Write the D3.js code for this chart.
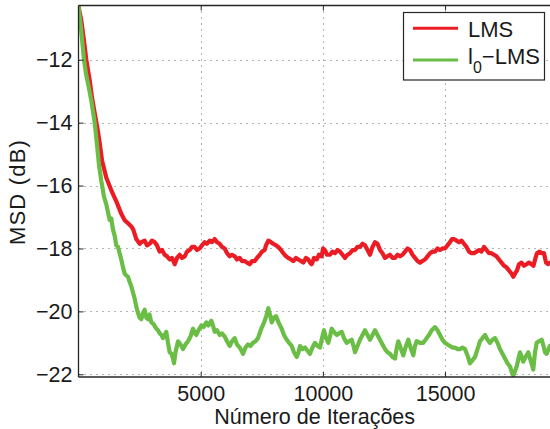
<!DOCTYPE html>
<html><head><meta charset="utf-8">
<script src="https://cdn.jsdelivr.net/npm/d3@7"></script>
<style>
body{margin:0;background:#fff}
svg{display:block}
text{font-family:"Liberation Sans",Arial,Helvetica,sans-serif;fill:#1a1a1a}
</style>
</head><body>
<svg id="c" width="550" height="429"></svg>
<script>
// ---------- data ----------
const xTicks = [5000, 10000, 15000];
const xTickLabels = ["5000", "10000", "15000"];
const yTicks = [-22, -20, -18, -16, -14, -12];
const yTickLabels = ["−22", "−20", "−18", "−16", "−14", "−12"];
const xDomain = [0, 19294];
const yDomain = [-22.086, -10.276];
const xTitle = "Número de Iterações";
const yTitle = "MSD (dB)";
const seriesNames = ["LMS", "l0−LMS"];
const seriesColors = ["#ec1c24", "#6abd45"];

const lmsIter = [0,115,225,320,458,552,663,769,868,962,1138,1342,1547,1751,1890,2026,2161,2242,2365,2504,2570,2709,2803,2914,3008,3118,3212,3323,3417,3527,3622,3732,3826,3937,4031,4141,4235,4346,4440,4550,4644,4755,4849,4960,5054,5164,5258,5369,5463,5573,5667,5778,5872,5983,6077,6187,6281,6392,6486,6596,6690,6801,6895,7006,7100,7210,7304,7415,7509,7619,7672,7767,7877,7971,8081,8176,8286,8380,8491,8585,8696,8790,8900,8994,9105,9199,9310,9404,9473,9543,9637,9747,9841,9952,10005,10087,10169,10292,10394,10496,10598,10701,10803,10905,11007,11110,11212,11314,11417,11519,11621,11723,11826,11928,12030,12133,12235,12337,12440,12542,12644,12746,12849,12951,13053,13156,13258,13360,13462,13565,13667,13769,13872,13974,14076,14179,14281,14383,14485,14588,14690,14792,14895,14997,15099,15202,15284,15366,15468,15570,15673,15775,15877,15980,16082,16184,16287,16389,16491,16593,16696,16798,16900,17002,17105,17207,17309,17412,17514,17616,17719,17792,17862,17944,18026,18128,18230,18333,18435,18537,18619,18701,18762,18864,18967,19049,19131,19213,19294];
const lmsMSD = [-10.3,-10.75,-11.4,-12.0,-12.65,-13.2,-13.7,-14.15,-14.65,-15.2,-15.75,-16.15,-16.5,-16.9,-17.1,-17.2,-17.3,-17.4,-17.7,-17.85,-17.8,-17.75,-17.9,-17.85,-17.75,-17.8,-17.9,-18.1,-18.05,-18.2,-18.25,-18.35,-18.3,-18.5,-18.3,-18.2,-18.3,-18.25,-18.1,-18.05,-17.95,-17.95,-18.05,-18.0,-17.9,-17.8,-17.85,-17.75,-17.8,-17.7,-17.8,-17.85,-17.95,-18.0,-18.15,-18.25,-18.2,-18.25,-18.35,-18.3,-18.4,-18.4,-18.45,-18.5,-18.4,-18.4,-18.3,-18.2,-18.1,-18.05,-17.9,-17.75,-17.8,-17.85,-17.9,-17.95,-18.05,-18.15,-18.25,-18.3,-18.35,-18.4,-18.3,-18.35,-18.4,-18.45,-18.3,-18.35,-18.45,-18.5,-18.3,-18.35,-18.2,-18.25,-18.0,-18.05,-18.2,-18.2,-18.1,-18.15,-18.05,-18.1,-18.2,-18.3,-18.2,-18.15,-18.05,-18.05,-17.95,-17.95,-17.85,-17.9,-18.05,-18.2,-17.95,-17.8,-17.85,-18.05,-18.15,-18.3,-18.25,-18.2,-18.3,-18.3,-18.2,-18.25,-18.2,-18.1,-18.0,-18.05,-18.2,-18.3,-18.4,-18.45,-18.4,-18.35,-18.25,-18.15,-18.1,-18.1,-18.0,-18.05,-18.0,-18.0,-17.9,-17.8,-17.7,-17.7,-17.75,-17.8,-17.75,-17.85,-17.95,-18.1,-18.15,-18.15,-18.1,-18.05,-18.1,-17.95,-18.05,-18.15,-18.15,-18.2,-18.25,-18.35,-18.45,-18.55,-18.6,-18.7,-18.8,-18.9,-18.8,-18.7,-18.5,-18.45,-18.55,-18.5,-18.45,-18.5,-18.55,-18.3,-18.15,-18.1,-18.15,-18.15,-18.45,-18.5,-18.45];

const l0Iter = [0,115,225,307,389,524,663,757,839,933,1043,1138,1207,1277,1342,1412,1481,1547,1616,1698,1751,1821,1890,1944,2026,2087,2161,2230,2300,2365,2435,2496,2570,2639,2709,2774,2844,2905,2979,3069,3184,3253,3323,3396,3458,3527,3593,3662,3732,3806,3867,3908,3969,4072,4174,4276,4378,4481,4583,4685,4767,4820,4910,5025,5115,5230,5320,5434,5504,5573,5667,5778,5872,5983,6077,6187,6281,6392,6486,6596,6670,6731,6834,6936,7038,7141,7243,7345,7480,7570,7685,7767,7836,7906,8000,8081,8184,8315,8409,8520,8614,8724,8818,8929,9002,9064,9166,9268,9371,9473,9575,9678,9780,9882,9964,10046,10128,10222,10292,10361,10455,10566,10660,10770,10865,10975,11069,11179,11253,11315,11417,11519,11621,11723,11826,11928,12030,12133,12235,12337,12440,12542,12644,12746,12849,12951,13013,13086,13176,13291,13381,13496,13586,13700,13769,13839,13974,14109,14248,14342,14453,14588,14690,14792,14895,14997,15099,15202,15304,15406,15509,15611,15713,15815,15918,16020,16122,16225,16327,16429,16532,16634,16736,16838,16941,17043,17145,17248,17350,17452,17555,17657,17718,17792,17862,17931,18005,18066,18136,18201,18291,18406,18496,18557,18610,18680,18750,18844,18954,19028,19089,19159,19232,19294];
const l0MSD = [-10.3,-11.1,-12.0,-12.45,-12.75,-13.3,-14.0,-14.7,-15.35,-15.85,-16.35,-16.6,-16.85,-17.1,-17.05,-17.4,-17.6,-17.9,-17.95,-18.2,-18.35,-18.6,-18.8,-18.85,-18.9,-19.05,-19.2,-19.4,-19.6,-19.85,-20.05,-20.2,-20.25,-20.05,-19.95,-20.2,-20.25,-20.1,-20.35,-20.4,-20.55,-20.6,-20.7,-20.75,-20.85,-20.75,-20.65,-21.0,-21.3,-21.35,-21.5,-21.65,-21.3,-20.95,-21.05,-21.2,-21.05,-20.95,-20.8,-20.55,-20.7,-20.75,-20.6,-20.45,-20.5,-20.35,-20.45,-20.3,-20.45,-20.65,-20.6,-20.75,-20.7,-20.8,-20.95,-21.1,-20.95,-20.85,-21.05,-21.15,-21.25,-21.35,-21.15,-21.05,-21.1,-21.0,-20.95,-20.85,-20.55,-20.4,-20.15,-19.9,-20.1,-20.35,-20.2,-20.15,-20.35,-20.55,-20.75,-20.9,-21.0,-21.1,-21.3,-21.45,-21.3,-21.1,-21.2,-21.15,-21.25,-21.35,-21.15,-21.0,-21.1,-21.15,-20.85,-20.6,-20.85,-21.0,-20.8,-20.55,-20.65,-20.75,-20.7,-20.65,-20.85,-21.0,-20.95,-20.9,-21.1,-21.3,-21.1,-20.9,-20.75,-20.6,-20.75,-20.9,-20.75,-20.6,-20.75,-20.9,-21.05,-21.2,-21.3,-21.35,-21.45,-21.5,-21.2,-20.95,-21.15,-21.4,-21.15,-20.9,-21.15,-21.4,-21.1,-20.95,-21.0,-21.0,-20.85,-20.75,-20.6,-20.5,-20.6,-20.75,-20.9,-21.0,-21.05,-21.1,-21.15,-21.15,-21.2,-21.2,-21.15,-21.2,-21.4,-21.65,-21.55,-21.45,-21.2,-20.95,-20.85,-20.75,-20.9,-21.0,-20.9,-20.85,-21.0,-21.2,-21.35,-21.5,-21.65,-21.75,-21.9,-22.05,-21.9,-21.75,-21.5,-21.3,-21.45,-21.6,-21.45,-21.3,-21.55,-21.7,-21.85,-21.3,-21.0,-20.95,-20.9,-21.1,-21.3,-21.35,-21.2,-21.1];

// ---------- layout ----------
const W = 550, H = 429;
const L = 78.5, R = 550, T = 5.5, B = 377;
const svg = d3.select("#c");
const x = d3.scaleLinear().domain(xDomain).range([L, R]);
const y = d3.scaleLinear().domain(yDomain).range([B, T]);
const axisColor = "#262626";
const fontSize = 21.5;

// grid
const grid = svg.append("g");
grid.selectAll("line.h").data(yTicks).join("line")
  .attr("x1", L).attr("x2", R + 5)
  .attr("y1", d => Math.round(y(d)) + 0.5).attr("y2", d => Math.round(y(d)) + 0.5)
  .attr("stroke", "#666").attr("stroke-width", 1).attr("stroke-dasharray", "1,5");
grid.selectAll("line.v").data(xTicks).join("line")
  .attr("y1", T).attr("y2", B)
  .attr("x1", d => Math.round(x(d)) + 0.5).attr("x2", d => Math.round(x(d)) + 0.5)
  .attr("stroke", "#666").attr("stroke-width", 1).attr("stroke-dasharray", "1,5");

// clip
svg.append("clipPath").attr("id", "clip").append("rect")
  .attr("x", L).attr("y", T).attr("width", R - L + 5).attr("height", B - T);

const line = d3.line().x(d => x(d[0])).y(d => y(d[1]));
const lmsData = lmsIter.map((v, i) => [v, lmsMSD[i]]);
const l0Data = l0Iter.map((v, i) => [v, l0MSD[i]]);
const plot = svg.append("g").attr("clip-path", "url(#clip)");
plot.append("path").datum(lmsData).attr("d", line)
  .attr("fill", "none").attr("stroke", seriesColors[0]).attr("stroke-width", 4.2)
  .attr("stroke-linejoin", "round").attr("stroke-linecap", "round");
plot.append("path").datum(l0Data).attr("d", line)
  .attr("fill", "none").attr("stroke", seriesColors[1]).attr("stroke-width", 4.2)
  .attr("stroke-linejoin", "round").attr("stroke-linecap", "round");

// axes
const yAxis = d3.axisLeft(y).tickValues(yTicks).tickSize(-5).tickPadding(6)
  .tickFormat((d, i) => yTickLabels[i]);
const gy = svg.append("g").attr("transform", `translate(${L},0)`).call(yAxis);
const xAxis = d3.axisBottom(x).tickValues(xTicks).tickSize(-5).tickPadding(9)
  .tickFormat((d, i) => xTickLabels[i]);
const gx = svg.append("g").attr("transform", `translate(0,${B})`).call(xAxis);
const xTop = d3.axisTop(x).tickValues(xTicks).tickSize(-5).tickFormat("");
const gt = svg.append("g").attr("transform", `translate(0,${T})`).call(xTop);
[gy, gx, gt].forEach(g => {
  g.select(".domain").remove();
  g.selectAll(".tick line").attr("stroke", axisColor);
  g.selectAll(".tick text").attr("font-size", fontSize).attr("fill", "#1a1a1a")
    .attr("font-family", '"Liberation Sans", Arial, sans-serif');
});
// frame lines
svg.append("line").attr("x1", L).attr("x2", L).attr("y1", T).attr("y2", B)
  .attr("stroke", axisColor).attr("stroke-width", 1.3);
svg.append("line").attr("x1", L).attr("x2", W + 2).attr("y1", B).attr("y2", B)
  .attr("stroke", axisColor).attr("stroke-width", 1.3);
svg.append("line").attr("x1", L).attr("x2", W + 2).attr("y1", T).attr("y2", T)
  .attr("stroke", axisColor).attr("stroke-width", 1.3);

// titles
svg.append("text").attr("x", 314.7).attr("y", 424).attr("text-anchor", "middle")
  .attr("font-size", 21.5).text(xTitle);
svg.append("text").attr("transform", "translate(25,192) rotate(-90)")
  .attr("text-anchor", "middle").attr("font-size", 22).attr("letter-spacing", 1.2).text(yTitle);

// legend
const lg = svg.append("g");
lg.append("rect").attr("x", 403.5).attr("y", 12.5).attr("width", 141).attr("height", 67.5)
  .attr("fill", "#fff").attr("stroke", axisColor).attr("stroke-width", 1.2);
const rowsY = [28.3, 60];
lg.selectAll("line.k").data(seriesColors).join("line")
  .attr("x1", 413).attr("x2", 458)
  .attr("y1", (d, i) => rowsY[i]).attr("y2", (d, i) => rowsY[i])
  .attr("stroke", d => d).attr("stroke-width", 3);
lg.append("text").attr("x", 468).attr("y", 36.5).attr("font-size", 22).text(seriesNames[0]);
const t2 = lg.append("text").attr("x", 468).attr("y", 63.5).attr("font-size", 22);
t2.append("tspan").text(seriesNames[1].slice(0, 1));
t2.append("tspan").attr("font-size", 16).attr("dy", 9).text(seriesNames[1].slice(1, 2));
t2.append("tspan").attr("dy", -9).text(seriesNames[1].slice(2));
</script>
</body></html>
